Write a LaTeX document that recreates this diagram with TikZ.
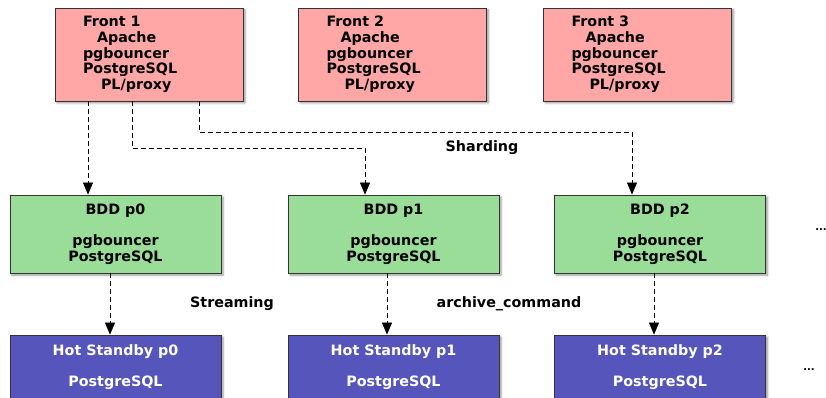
\documentclass[tikz,border=0pt]{standalone}
\usepackage{fontspec}
\setmainfont{DejaVu Sans}
\usetikzlibrary{arrows.meta,shadows.blur}
\definecolor{frontpink}{RGB}{255,166,166}
\definecolor{bddgreen}{RGB}{153,221,153}
\definecolor{hsblue}{RGB}{85,85,187}
\definecolor{boxedge}{RGB}{51,51,51}

\begin{document}
\begin{tikzpicture}[x=1pt,y=1pt,
  box/.style={rectangle,draw=boxedge,line width=0.8pt,inner sep=0pt,
    blur shadow={shadow xshift=2pt,shadow yshift=-2pt,shadow blur steps=6,shadow blur radius=2pt,shadow opacity=40},
    font=\bfseries\fontsize{14.3}{15.7}\selectfont},
  front/.style={box,fill=frontpink,minimum height=93pt,text width=132pt,inner xsep=28pt,align=left},
  bdd/.style={box,fill=bddgreen,minimum width=211pt,minimum height=78pt,align=center},
  hs/.style={box,fill=hsblue,text=white,minimum width=211pt,minimum height=64pt,align=center},
  txt/.style={font=\bfseries\fontsize{14.3}{15.7}\selectfont},
  dots/.style={font=\bfseries\fontsize{10}{12}\selectfont},
  link/.style={line width=0.7pt,dash pattern=on 5pt off 3pt,-{Triangle[length=12pt,width=10pt]}}]
  \useasboundingbox (0,0) rectangle (826,397);
  \clip (0,0) rectangle (826,397);

  \node[front] (f1) at (149,342.5) {Front 1\\\hspace*{14pt}Apache\\pgbouncer\\PostgreSQL\\\hspace*{18pt}PL/proxy};
  \node[front] (f2) at (392.5,342.5) {Front 2\\\hspace*{14pt}Apache\\pgbouncer\\PostgreSQL\\\hspace*{18pt}PL/proxy};
  \node[front] (f3) at (637.5,342.5) {Front 3\\\hspace*{14pt}Apache\\pgbouncer\\PostgreSQL\\\hspace*{18pt}PL/proxy};

  \node[bdd] (p0) at (115.5,163) {BDD p0\\[15.7pt]pgbouncer\\PostgreSQL};
  \node[bdd] (p1) at (393.5,163) {BDD p1\\[15.7pt]pgbouncer\\PostgreSQL};
  \node[bdd] (p2) at (660,163) {BDD p2\\[15.7pt]pgbouncer\\PostgreSQL};

  \node[hs] (h0) at (115.5,30) {Hot Standby p0\\[15.7pt]PostgreSQL};
  \node[hs] (h1) at (393.5,30) {Hot Standby p1\\[15.7pt]PostgreSQL};
  \node[hs] (h2) at (660,30) {Hot Standby p2\\[15.7pt]PostgreSQL};

  \draw[link] ([xshift=-61pt]f1.south) -- ([xshift=-27.5pt]p0.north);
  \draw[link] ([xshift=-17pt]f1.south) -- ++(0,-47) -| ([xshift=-28.5pt]p1.north);
  \draw[link] ([xshift=50pt]f1.south) -- ++(0,-31) -| ([xshift=-28pt]p2.north);

  \draw[link] ([xshift=-5.5pt]p0.south) -- ([xshift=-5.5pt]h0.north);
  \draw[link] ([xshift=-6.5pt]p1.south) -- ([xshift=-6.5pt]h1.north);
  \draw[link] ([xshift=-6pt]p2.south) -- ([xshift=-6pt]h2.north);

  \node[txt] (shard) at (482,249) {Sharding};
  \node[txt] (stream) at (232,93) {Streaming};
  \node[txt] (archive) at (509,93) {archive\_command};
  \node[dots] (more1) at (821,167) {...};
  \node[dots] (more2) at (809,27) {...};
\end{tikzpicture}
\end{document}
